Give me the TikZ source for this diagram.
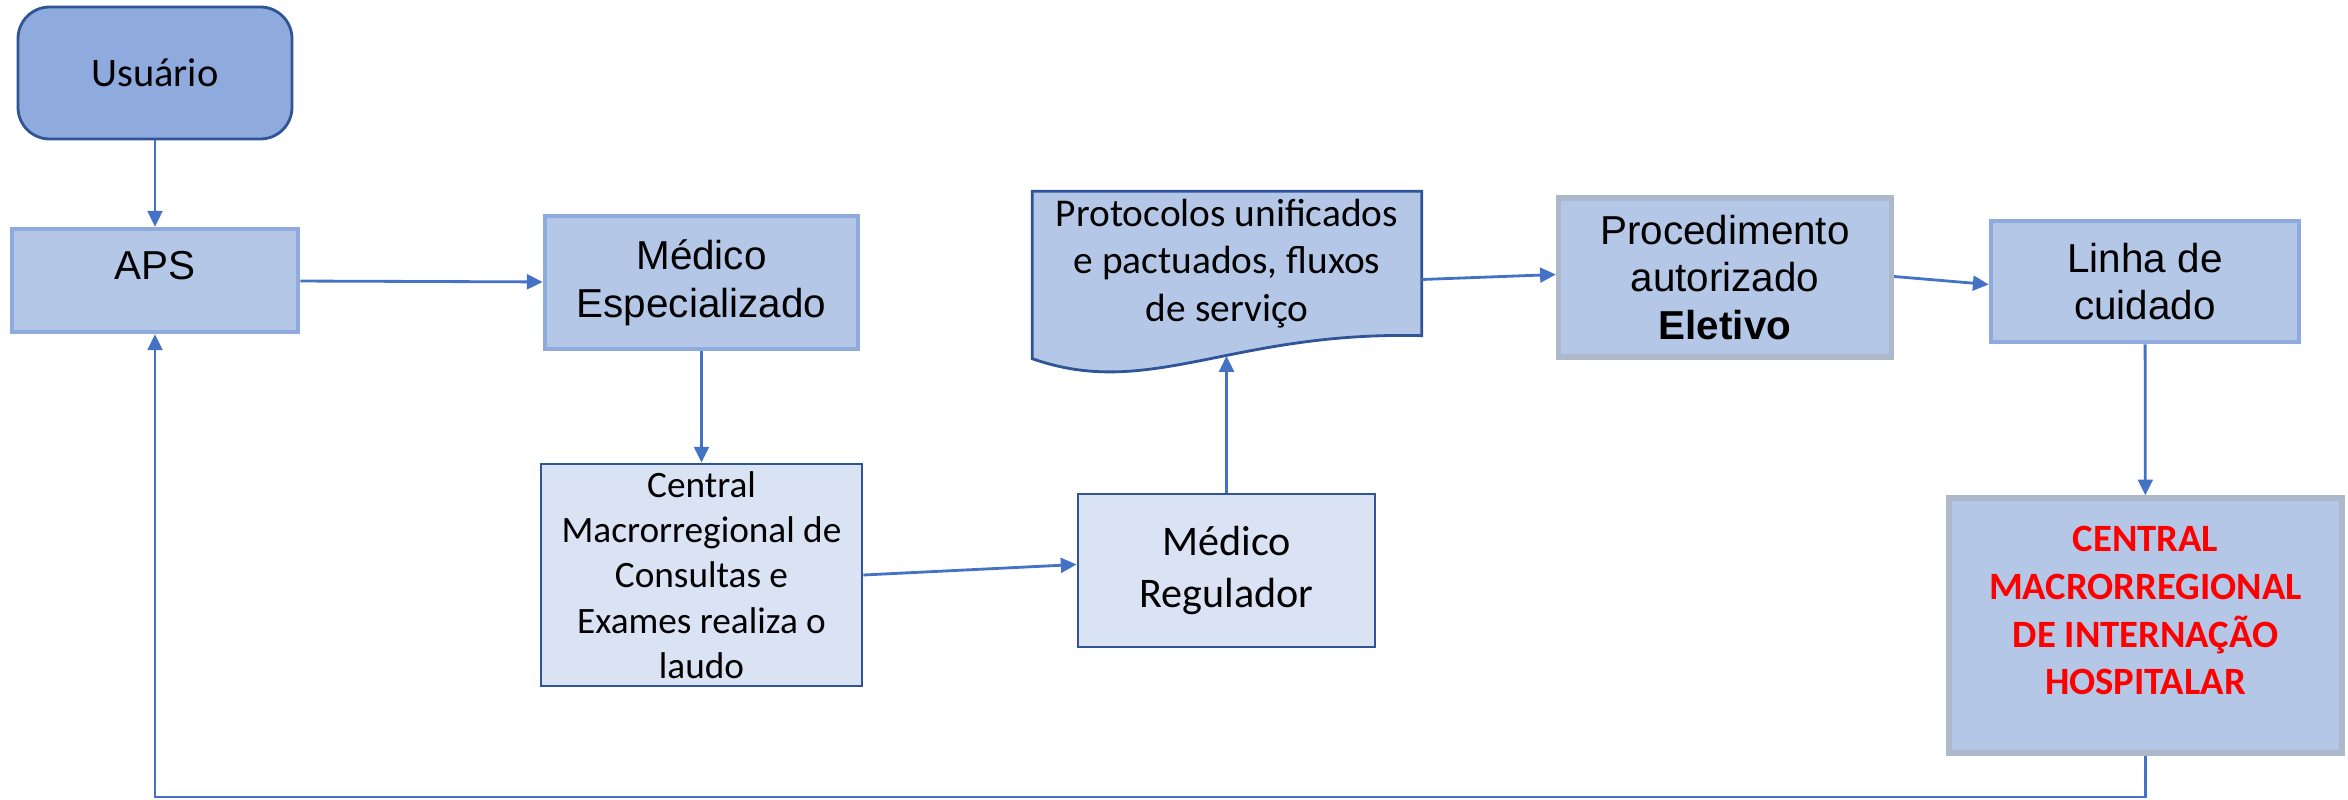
\documentclass[tikz,border=0pt]{standalone}
\usepackage{fontspec}
\setmainfont{Carlito}
\newfontfamily\arialfont{Liberation Sans}
\usepackage{xcolor}
\usetikzlibrary{arrows.meta,backgrounds}
\definecolor{boxfill}{HTML}{B4C7E7}
\definecolor{userfill}{HTML}{8FAADC}
\definecolor{palefill}{HTML}{DAE3F3}
\definecolor{darkline}{HTML}{2F5597}
\definecolor{greyline}{HTML}{ADB9CA}
\definecolor{arrowblue}{HTML}{4472C4}

\begin{document}
\begin{tikzpicture}[
      flowbox/.style={rectangle,fill=boxfill,align=center,inner sep=0pt},
      lightedge/.style={flowbox,draw=userfill,line width=1.3pt},
      greyedge/.style={flowbox,draw=greyline,line width=1.5pt},
      paleedge/.style={rectangle,fill=palefill,draw=darkline,line width=0.8pt,align=center,inner sep=0pt},
      flow/.style={draw=arrowblue,line width=0.8pt,-{Triangle[length=4.5pt,width=4.2pt]}},
      arialtext/.style={font=\arialfont\fontsize{11.5}{13.6}\selectfont}]

      \useasboundingbox (0,0) rectangle (23.48,7.99);

      \node[flowbox,fill=userfill,draw=darkline,line width=0.8pt,rounded corners=9pt,
        minimum width=2.74cm,minimum height=1.32cm,font=\fontsize{11.5}{13.8}\selectfont]
        (user) at (1.55,7.26) {Usuário};
      \node[lightedge,arialtext,minimum width=2.86cm,minimum height=1.03cm,text depth=0.3cm]
        (aps) at (1.55,5.185) {APS};
      \node[lightedge,arialtext,minimum width=3.13cm,minimum height=1.33cm]
        (medesp) at (7.015,5.165) {Médico\\Especializado};
      \node[paleedge,minimum width=3.21cm,minimum height=2.22cm,font=\fontsize{10.6}{12.9}\selectfont]
        (consultas) at (7.015,2.24) {Central\\Macrorregional de\\Consultas e\\Exames realiza o\\laudo};
      \node[paleedge,minimum width=2.97cm,minimum height=1.53cm,font=\fontsize{12}{14.7}\selectfont]
        (regulador) at (12.265,2.285) {Médico\\Regulador};
      \node[flowbox,fill=none,minimum width=3.88cm,minimum height=1.43cm,font=\fontsize{11.2}{13.6}\selectfont]
        (proto) at (12.27,5.355) {Protocolos unificados\\e pactuados, fluxos\\de serviço};
      \node[greyedge,arialtext,minimum width=3.33cm,minimum height=1.59cm]
        (proc) at (17.25,5.215) {Procedimento\\autorizado\\\textbf{Eletivo}};
      \node[lightedge,arialtext,minimum width=3.08cm,minimum height=1.21cm]
        (linha) at (21.45,5.175) {Linha de\\cuidado};
      \node[greyedge,minimum width=3.93cm,minimum height=2.55cm,text depth=0.3cm,
        text=red,font=\bfseries\fontsize{11}{13.6}\selectfont]
        (hosp) at (21.455,1.735) {CENTRAL\\MACRORREGIONAL\\DE INTERNAÇÃO\\HOSPITALAR};

      \begin{scope}[on background layer]
        \draw[fill=boxfill,draw=darkline,line width=0.8pt]
          (proto.south east) .. controls +(-1.91,0.05) and (11.5,3.99) .. ([yshift=-0.23cm]proto.south west)
          -- (proto.north west) -- (proto.north east) -- cycle;
      \end{scope}

      \coordinate (protobot) at (12.265,4.43);
      \coordinate (loopback) at (1.55,0.02);

      \draw[flow] (user) -- (aps);
      \draw[flow] (aps) -- (medesp);
      \draw[flow] (medesp) -- (consultas);
      \draw[flow] (consultas.east) -- ([yshift=0.06cm]regulador.west);
      \draw[flow] (regulador) -- (protobot);
      \draw[flow] ([yshift=-0.16cm]proto.east) -- ([yshift=0.03cm]proc.west);
      \draw[flow] ([yshift=0.01cm]proc.east) -- ([yshift=-0.03cm]linha.west);
      \draw[flow] (linha) -- (hosp);
      \draw[flow] (hosp.south) |- (loopback) -- (aps.south);
    \end{tikzpicture}
\end{document}
